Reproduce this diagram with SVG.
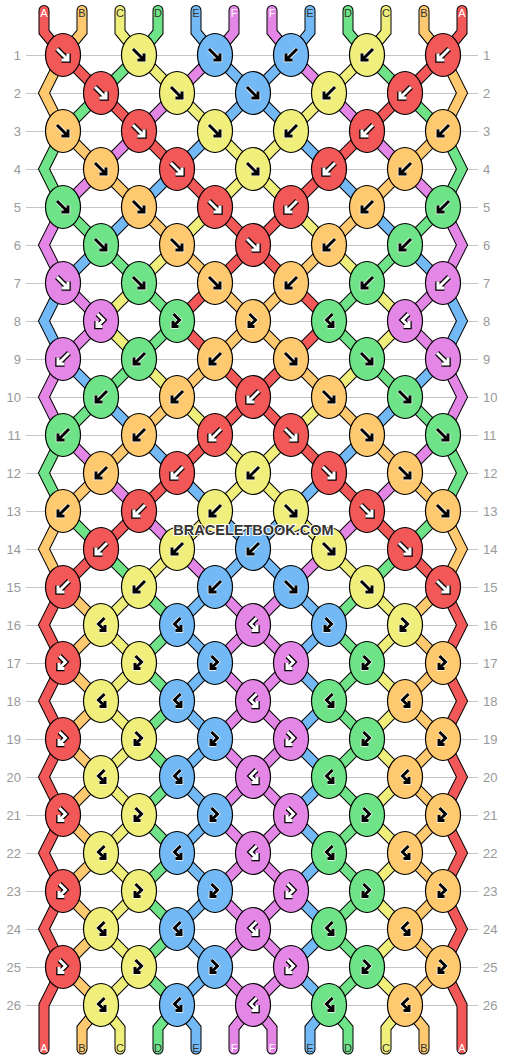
<svg xmlns="http://www.w3.org/2000/svg" xmlns:xlink="http://www.w3.org/1999/xlink" width="506" height="1060" viewBox="0 0 506 1060">
<style>
.gl{fill:none;stroke:#c4c4c4;stroke-width:1}
.so{fill:none;stroke:#000;stroke-width:11;stroke-linecap:round;stroke-linejoin:miter}
.sc{fill:none;stroke-width:9;stroke-linecap:round;stroke-linejoin:miter}
.cr{stroke:#f25858}.co{stroke:#ffc96f}.cy{stroke:#f1ef7b}.cg{stroke:#6fe388}.cb{stroke:#72b9f5}.cp{stroke:#e486e5}
ellipse{stroke:#000;stroke-width:1.2}
.r{fill:#f25858}.o{fill:#ffc96f}.y{fill:#f1ef7b}.g{fill:#6fe388}.b{fill:#72b9f5}.p{fill:#e486e5}
.ao{fill:none;stroke:#000;stroke-width:5.5}
.al{fill:none;stroke:#fff;stroke-width:3}
.ah{fill:none;stroke:#fff;stroke-width:4.5}
.ad{fill:none;stroke:#000;stroke-width:3}
.n{font-family:"Liberation Sans",Arial,sans-serif;font-size:13px;fill:#999}
.nl{text-anchor:end}
.lb{font-family:"Liberation Sans",Arial,sans-serif;font-size:11px;text-anchor:middle}
.lw{fill:#fff}.lk{fill:#333}
.wm{font-family:"Liberation Sans",Arial,sans-serif;font-weight:bold;font-size:14.5px;fill:#333;stroke:#fff;stroke-width:2;paint-order:stroke;text-anchor:middle}
</style>
<defs>
<path id="pF" d="M-6 -6L4.5 4.5M-1.5 5H5V-1.5"/>
<path id="pB" d="M6 -6L-4.5 4.5M1.5 5H-5V-1.5"/>
<path id="pFB" d="M-3.5 -7L2.5 -1L-3.5 5M1.5 5.5H-4V0"/>
<path id="pBF" d="M3.5 -7L-2.5 -1L3.5 5M-1.5 5.5H4V0"/>
<g id="Fl"><use href="#pF" class="ao"/><use href="#pF" class="al"/></g>
<g id="Fd"><use href="#pF" class="ah"/><use href="#pF" class="ad"/></g>
<g id="Bl"><use href="#pB" class="ao"/><use href="#pB" class="al"/></g>
<g id="Bd"><use href="#pB" class="ah"/><use href="#pB" class="ad"/></g>
<g id="FBl"><use href="#pFB" class="ao"/><use href="#pFB" class="al"/></g>
<g id="FBd"><use href="#pFB" class="ah"/><use href="#pFB" class="ad"/></g>
<g id="BFl"><use href="#pBF" class="ao"/><use href="#pBF" class="al"/></g>
<g id="BFd"><use href="#pBF" class="ah"/><use href="#pBF" class="ad"/></g>
<path id="sA1" d="M44 10.5V32L63 55 101 93 139 131 177 169 215 207 253 245 291 283 329 321 291 359 253 397 215 435 177 473 139 511 101 549 63 587 44 625 63 663 44 701 63 739 44 777 63 815 44 853 63 891 44 929 63 967 44 1005V1049"/>
<path id="sA2" d="M462 10.5V32L443 55 405 93 367 131 329 169 291 207 253 245 215 283 177 321 215 359 253 397 291 435 329 473 367 511 405 549 443 587 462 625 443 663 462 701 443 739 462 777 443 815 462 853 443 891 462 929 443 967 462 1005V1049"/>
<path id="sB1" d="M82 10.5V32L63 55 44 93 63 131 101 169 139 207 177 245 215 283 253 321 215 359 177 397 139 435 101 473 63 511 44 549 63 587 101 625 63 663 101 701 63 739 101 777 63 815 101 853 63 891 101 929 63 967 101 1005 82 1028V1049"/>
<path id="sB2" d="M424 10.5V32L443 55 462 93 443 131 405 169 367 207 329 245 291 283 253 321 291 359 329 397 367 435 405 473 443 511 462 549 443 587 405 625 443 663 405 701 443 739 405 777 443 815 405 853 443 891 405 929 443 967 405 1005 424 1028V1049"/>
<path id="sC1" d="M120 10.5V32L139 55 177 93 215 131 253 169 291 207 329 245 367 283 405 321 367 359 329 397 291 435 253 473 215 511 177 549 139 587 101 625 139 663 101 701 139 739 101 777 139 815 101 853 139 891 101 929 139 967 101 1005 120 1028V1049"/>
<path id="sC2" d="M386 10.5V32L367 55 329 93 291 131 253 169 215 207 177 245 139 283 101 321 139 359 177 397 215 435 253 473 291 511 329 549 367 587 405 625 367 663 405 701 367 739 405 777 367 815 405 853 367 891 405 929 367 967 405 1005 386 1028V1049"/>
<path id="sD1" d="M158 10.5V32L139 55 101 93 63 131 44 169 63 207 101 245 139 283 177 321 139 359 101 397 63 435 44 473 63 511 101 549 139 587 177 625 139 663 177 701 139 739 177 777 139 815 177 853 139 891 177 929 139 967 177 1005 158 1028V1049"/>
<path id="sD2" d="M348 10.5V32L367 55 405 93 443 131 462 169 443 207 405 245 367 283 329 321 367 359 405 397 443 435 462 473 443 511 405 549 367 587 329 625 367 663 329 701 367 739 329 777 367 815 329 853 367 891 329 929 367 967 329 1005 348 1028V1049"/>
<path id="sE1" d="M196 10.5V32L215 55 253 93 291 131 329 169 367 207 405 245 443 283 462 321 443 359 405 397 367 435 329 473 291 511 253 549 215 587 177 625 215 663 177 701 215 739 177 777 215 815 177 853 215 891 177 929 215 967 177 1005 196 1028V1049"/>
<path id="sE2" d="M310 10.5V32L291 55 253 93 215 131 177 169 139 207 101 245 63 283 44 321 63 359 101 397 139 435 177 473 215 511 253 549 291 587 329 625 291 663 329 701 291 739 329 777 291 815 329 853 291 891 329 929 291 967 329 1005 310 1028V1049"/>
<path id="sF1" d="M234 10.5V32L215 55 177 93 139 131 101 169 63 207 44 245 63 283 101 321 63 359 44 397 63 435 101 473 139 511 177 549 215 587 253 625 215 663 253 701 215 739 253 777 215 815 253 853 215 891 253 929 215 967 253 1005 234 1028V1049"/>
<path id="sF2" d="M272 10.5V32L291 55 329 93 367 131 405 169 443 207 462 245 443 283 405 321 443 359 462 397 443 435 405 473 367 511 329 549 291 587 253 625 291 663 253 701 291 739 253 777 291 815 253 853 291 891 253 929 291 967 253 1005 272 1028V1049"/>
</defs>
<rect width="506" height="1060" fill="#fff"/>
<g id="grid">
<path class="gl" d="M26 55.5H478M26 93.5H478M26 131.5H478M26 169.5H478M26 207.5H478M26 245.5H478M26 283.5H478M26 321.5H478M26 359.5H478M26 397.5H478M26 435.5H478M26 473.5H478M26 511.5H478M26 549.5H478M26 587.5H478M26 625.5H478M26 663.5H478M26 701.5H478M26 739.5H478M26 777.5H478M26 815.5H478M26 853.5H478M26 891.5H478M26 929.5H478M26 967.5H478M26 1005.5H478"/>
</g>
<g id="row-numbers">
<text class="n nl" x="21" y="59.5">1</text><text class="n nl" x="21" y="97.5">2</text><text class="n nl" x="21" y="135.5">3</text><text class="n nl" x="21" y="173.5">4</text><text class="n nl" x="21" y="211.5">5</text><text class="n nl" x="21" y="249.5">6</text><text class="n nl" x="21" y="287.5">7</text><text class="n nl" x="21" y="325.5">8</text><text class="n nl" x="21" y="363.5">9</text><text class="n nl" x="21" y="401.5">10</text><text class="n nl" x="21" y="439.5">11</text><text class="n nl" x="21" y="477.5">12</text><text class="n nl" x="21" y="515.5">13</text><text class="n nl" x="21" y="553.5">14</text><text class="n nl" x="21" y="591.5">15</text><text class="n nl" x="21" y="629.5">16</text><text class="n nl" x="21" y="667.5">17</text><text class="n nl" x="21" y="705.5">18</text><text class="n nl" x="21" y="743.5">19</text><text class="n nl" x="21" y="781.5">20</text><text class="n nl" x="21" y="819.5">21</text><text class="n nl" x="21" y="857.5">22</text><text class="n nl" x="21" y="895.5">23</text><text class="n nl" x="21" y="933.5">24</text><text class="n nl" x="21" y="971.5">25</text><text class="n nl" x="21" y="1009.5">26</text>
<text class="n" x="483" y="59.5">1</text><text class="n" x="483" y="97.5">2</text><text class="n" x="483" y="135.5">3</text><text class="n" x="483" y="173.5">4</text><text class="n" x="483" y="211.5">5</text><text class="n" x="483" y="249.5">6</text><text class="n" x="483" y="287.5">7</text><text class="n" x="483" y="325.5">8</text><text class="n" x="483" y="363.5">9</text><text class="n" x="483" y="401.5">10</text><text class="n" x="483" y="439.5">11</text><text class="n" x="483" y="477.5">12</text><text class="n" x="483" y="515.5">13</text><text class="n" x="483" y="553.5">14</text><text class="n" x="483" y="591.5">15</text><text class="n" x="483" y="629.5">16</text><text class="n" x="483" y="667.5">17</text><text class="n" x="483" y="705.5">18</text><text class="n" x="483" y="743.5">19</text><text class="n" x="483" y="781.5">20</text><text class="n" x="483" y="819.5">21</text><text class="n" x="483" y="857.5">22</text><text class="n" x="483" y="895.5">23</text><text class="n" x="483" y="933.5">24</text><text class="n" x="483" y="971.5">25</text><text class="n" x="483" y="1009.5">26</text>
</g>
<g id="connectors">
<use href="#sA1" class="so"/><use href="#sB1" class="so"/><use href="#sC1" class="so"/><use href="#sD1" class="so"/><use href="#sE1" class="so"/><use href="#sF1" class="so"/><use href="#sF2" class="so"/><use href="#sE2" class="so"/><use href="#sD2" class="so"/><use href="#sC2" class="so"/><use href="#sB2" class="so"/><use href="#sA2" class="so"/>
<use id="string-A1" href="#sA1" class="sc cr"/><use id="string-B1" href="#sB1" class="sc co"/><use id="string-C1" href="#sC1" class="sc cy"/><use id="string-D1" href="#sD1" class="sc cg"/><use id="string-E1" href="#sE1" class="sc cb"/><use id="string-F1" href="#sF1" class="sc cp"/><use id="string-F2" href="#sF2" class="sc cp"/><use id="string-E2" href="#sE2" class="sc cb"/><use id="string-D2" href="#sD2" class="sc cg"/><use id="string-C2" href="#sC2" class="sc cy"/><use id="string-B2" href="#sB2" class="sc co"/><use id="string-A2" href="#sA2" class="sc cr"/>
</g>
<g id="knots">
<g id="k1-1"><ellipse class="r" cx="63" cy="55" rx="17.5" ry="21.5"/><use href="#Fl" x="63" y="55"/></g>
<g id="k1-2"><ellipse class="y" cx="139" cy="55" rx="17.5" ry="21.5"/><use href="#Fd" x="139" y="55"/></g>
<g id="k1-3"><ellipse class="b" cx="215" cy="55" rx="17.5" ry="21.5"/><use href="#Fd" x="215" y="55"/></g>
<g id="k1-4"><ellipse class="b" cx="291" cy="55" rx="17.5" ry="21.5"/><use href="#Bd" x="291" y="55"/></g>
<g id="k1-5"><ellipse class="y" cx="367" cy="55" rx="17.5" ry="21.5"/><use href="#Bd" x="367" y="55"/></g>
<g id="k1-6"><ellipse class="r" cx="443" cy="55" rx="17.5" ry="21.5"/><use href="#Bl" x="443" y="55"/></g>
<g id="k2-1"><ellipse class="r" cx="101" cy="93" rx="17.5" ry="21.5"/><use href="#Fl" x="101" y="93"/></g>
<g id="k2-2"><ellipse class="y" cx="177" cy="93" rx="17.5" ry="21.5"/><use href="#Fd" x="177" y="93"/></g>
<g id="k2-3"><ellipse class="b" cx="253" cy="93" rx="17.5" ry="21.5"/><use href="#Fd" x="253" y="93"/></g>
<g id="k2-4"><ellipse class="y" cx="329" cy="93" rx="17.5" ry="21.5"/><use href="#Bd" x="329" y="93"/></g>
<g id="k2-5"><ellipse class="r" cx="405" cy="93" rx="17.5" ry="21.5"/><use href="#Bl" x="405" y="93"/></g>
<g id="k3-1"><ellipse class="o" cx="63" cy="131" rx="17.5" ry="21.5"/><use href="#Fd" x="63" y="131"/></g>
<g id="k3-2"><ellipse class="r" cx="139" cy="131" rx="17.5" ry="21.5"/><use href="#Fl" x="139" y="131"/></g>
<g id="k3-3"><ellipse class="y" cx="215" cy="131" rx="17.5" ry="21.5"/><use href="#Fd" x="215" y="131"/></g>
<g id="k3-4"><ellipse class="y" cx="291" cy="131" rx="17.5" ry="21.5"/><use href="#Bd" x="291" y="131"/></g>
<g id="k3-5"><ellipse class="r" cx="367" cy="131" rx="17.5" ry="21.5"/><use href="#Bl" x="367" y="131"/></g>
<g id="k3-6"><ellipse class="o" cx="443" cy="131" rx="17.5" ry="21.5"/><use href="#Bd" x="443" y="131"/></g>
<g id="k4-1"><ellipse class="o" cx="101" cy="169" rx="17.5" ry="21.5"/><use href="#Fd" x="101" y="169"/></g>
<g id="k4-2"><ellipse class="r" cx="177" cy="169" rx="17.5" ry="21.5"/><use href="#Fl" x="177" y="169"/></g>
<g id="k4-3"><ellipse class="y" cx="253" cy="169" rx="17.5" ry="21.5"/><use href="#Fd" x="253" y="169"/></g>
<g id="k4-4"><ellipse class="r" cx="329" cy="169" rx="17.5" ry="21.5"/><use href="#Bl" x="329" y="169"/></g>
<g id="k4-5"><ellipse class="o" cx="405" cy="169" rx="17.5" ry="21.5"/><use href="#Bd" x="405" y="169"/></g>
<g id="k5-1"><ellipse class="g" cx="63" cy="207" rx="17.5" ry="21.5"/><use href="#Fd" x="63" y="207"/></g>
<g id="k5-2"><ellipse class="o" cx="139" cy="207" rx="17.5" ry="21.5"/><use href="#Fd" x="139" y="207"/></g>
<g id="k5-3"><ellipse class="r" cx="215" cy="207" rx="17.5" ry="21.5"/><use href="#Fl" x="215" y="207"/></g>
<g id="k5-4"><ellipse class="r" cx="291" cy="207" rx="17.5" ry="21.5"/><use href="#Bl" x="291" y="207"/></g>
<g id="k5-5"><ellipse class="o" cx="367" cy="207" rx="17.5" ry="21.5"/><use href="#Bd" x="367" y="207"/></g>
<g id="k5-6"><ellipse class="g" cx="443" cy="207" rx="17.5" ry="21.5"/><use href="#Bd" x="443" y="207"/></g>
<g id="k6-1"><ellipse class="g" cx="101" cy="245" rx="17.5" ry="21.5"/><use href="#Fd" x="101" y="245"/></g>
<g id="k6-2"><ellipse class="o" cx="177" cy="245" rx="17.5" ry="21.5"/><use href="#Fd" x="177" y="245"/></g>
<g id="k6-3"><ellipse class="r" cx="253" cy="245" rx="17.5" ry="21.5"/><use href="#Fl" x="253" y="245"/></g>
<g id="k6-4"><ellipse class="o" cx="329" cy="245" rx="17.5" ry="21.5"/><use href="#Bd" x="329" y="245"/></g>
<g id="k6-5"><ellipse class="g" cx="405" cy="245" rx="17.5" ry="21.5"/><use href="#Bd" x="405" y="245"/></g>
<g id="k7-1"><ellipse class="p" cx="63" cy="283" rx="17.5" ry="21.5"/><use href="#Fl" x="63" y="283"/></g>
<g id="k7-2"><ellipse class="g" cx="139" cy="283" rx="17.5" ry="21.5"/><use href="#Fd" x="139" y="283"/></g>
<g id="k7-3"><ellipse class="o" cx="215" cy="283" rx="17.5" ry="21.5"/><use href="#Fd" x="215" y="283"/></g>
<g id="k7-4"><ellipse class="o" cx="291" cy="283" rx="17.5" ry="21.5"/><use href="#Bd" x="291" y="283"/></g>
<g id="k7-5"><ellipse class="g" cx="367" cy="283" rx="17.5" ry="21.5"/><use href="#Bd" x="367" y="283"/></g>
<g id="k7-6"><ellipse class="p" cx="443" cy="283" rx="17.5" ry="21.5"/><use href="#Bl" x="443" y="283"/></g>
<g id="k8-1"><ellipse class="p" cx="101" cy="321" rx="17.5" ry="21.5"/><use href="#FBl" x="101" y="321"/></g>
<g id="k8-2"><ellipse class="g" cx="177" cy="321" rx="17.5" ry="21.5"/><use href="#FBd" x="177" y="321"/></g>
<g id="k8-3"><ellipse class="o" cx="253" cy="321" rx="17.5" ry="21.5"/><use href="#FBd" x="253" y="321"/></g>
<g id="k8-4"><ellipse class="g" cx="329" cy="321" rx="17.5" ry="21.5"/><use href="#BFd" x="329" y="321"/></g>
<g id="k8-5"><ellipse class="p" cx="405" cy="321" rx="17.5" ry="21.5"/><use href="#BFl" x="405" y="321"/></g>
<g id="k9-1"><ellipse class="p" cx="63" cy="359" rx="17.5" ry="21.5"/><use href="#Bl" x="63" y="359"/></g>
<g id="k9-2"><ellipse class="g" cx="139" cy="359" rx="17.5" ry="21.5"/><use href="#Bd" x="139" y="359"/></g>
<g id="k9-3"><ellipse class="o" cx="215" cy="359" rx="17.5" ry="21.5"/><use href="#Bd" x="215" y="359"/></g>
<g id="k9-4"><ellipse class="o" cx="291" cy="359" rx="17.5" ry="21.5"/><use href="#Fd" x="291" y="359"/></g>
<g id="k9-5"><ellipse class="g" cx="367" cy="359" rx="17.5" ry="21.5"/><use href="#Fd" x="367" y="359"/></g>
<g id="k9-6"><ellipse class="p" cx="443" cy="359" rx="17.5" ry="21.5"/><use href="#Fl" x="443" y="359"/></g>
<g id="k10-1"><ellipse class="g" cx="101" cy="397" rx="17.5" ry="21.5"/><use href="#Bd" x="101" y="397"/></g>
<g id="k10-2"><ellipse class="o" cx="177" cy="397" rx="17.5" ry="21.5"/><use href="#Bd" x="177" y="397"/></g>
<g id="k10-3"><ellipse class="r" cx="253" cy="397" rx="17.5" ry="21.5"/><use href="#Bl" x="253" y="397"/></g>
<g id="k10-4"><ellipse class="o" cx="329" cy="397" rx="17.5" ry="21.5"/><use href="#Fd" x="329" y="397"/></g>
<g id="k10-5"><ellipse class="g" cx="405" cy="397" rx="17.5" ry="21.5"/><use href="#Fd" x="405" y="397"/></g>
<g id="k11-1"><ellipse class="g" cx="63" cy="435" rx="17.5" ry="21.5"/><use href="#Bd" x="63" y="435"/></g>
<g id="k11-2"><ellipse class="o" cx="139" cy="435" rx="17.5" ry="21.5"/><use href="#Bd" x="139" y="435"/></g>
<g id="k11-3"><ellipse class="r" cx="215" cy="435" rx="17.5" ry="21.5"/><use href="#Bl" x="215" y="435"/></g>
<g id="k11-4"><ellipse class="r" cx="291" cy="435" rx="17.5" ry="21.5"/><use href="#Fl" x="291" y="435"/></g>
<g id="k11-5"><ellipse class="o" cx="367" cy="435" rx="17.5" ry="21.5"/><use href="#Fd" x="367" y="435"/></g>
<g id="k11-6"><ellipse class="g" cx="443" cy="435" rx="17.5" ry="21.5"/><use href="#Fd" x="443" y="435"/></g>
<g id="k12-1"><ellipse class="o" cx="101" cy="473" rx="17.5" ry="21.5"/><use href="#Bd" x="101" y="473"/></g>
<g id="k12-2"><ellipse class="r" cx="177" cy="473" rx="17.5" ry="21.5"/><use href="#Bl" x="177" y="473"/></g>
<g id="k12-3"><ellipse class="y" cx="253" cy="473" rx="17.5" ry="21.5"/><use href="#Bd" x="253" y="473"/></g>
<g id="k12-4"><ellipse class="r" cx="329" cy="473" rx="17.5" ry="21.5"/><use href="#Fl" x="329" y="473"/></g>
<g id="k12-5"><ellipse class="o" cx="405" cy="473" rx="17.5" ry="21.5"/><use href="#Fd" x="405" y="473"/></g>
<g id="k13-1"><ellipse class="o" cx="63" cy="511" rx="17.5" ry="21.5"/><use href="#Bd" x="63" y="511"/></g>
<g id="k13-2"><ellipse class="r" cx="139" cy="511" rx="17.5" ry="21.5"/><use href="#Bl" x="139" y="511"/></g>
<g id="k13-3"><ellipse class="y" cx="215" cy="511" rx="17.5" ry="21.5"/><use href="#Bd" x="215" y="511"/></g>
<g id="k13-4"><ellipse class="y" cx="291" cy="511" rx="17.5" ry="21.5"/><use href="#Fd" x="291" y="511"/></g>
<g id="k13-5"><ellipse class="r" cx="367" cy="511" rx="17.5" ry="21.5"/><use href="#Fl" x="367" y="511"/></g>
<g id="k13-6"><ellipse class="o" cx="443" cy="511" rx="17.5" ry="21.5"/><use href="#Fd" x="443" y="511"/></g>
<g id="k14-1"><ellipse class="r" cx="101" cy="549" rx="17.5" ry="21.5"/><use href="#Bl" x="101" y="549"/></g>
<g id="k14-2"><ellipse class="y" cx="177" cy="549" rx="17.5" ry="21.5"/><use href="#Bd" x="177" y="549"/></g>
<g id="k14-3"><ellipse class="b" cx="253" cy="549" rx="17.5" ry="21.5"/><use href="#Bd" x="253" y="549"/></g>
<g id="k14-4"><ellipse class="y" cx="329" cy="549" rx="17.5" ry="21.5"/><use href="#Fd" x="329" y="549"/></g>
<g id="k14-5"><ellipse class="r" cx="405" cy="549" rx="17.5" ry="21.5"/><use href="#Fl" x="405" y="549"/></g>
<g id="k15-1"><ellipse class="r" cx="63" cy="587" rx="17.5" ry="21.5"/><use href="#Bl" x="63" y="587"/></g>
<g id="k15-2"><ellipse class="y" cx="139" cy="587" rx="17.5" ry="21.5"/><use href="#Bd" x="139" y="587"/></g>
<g id="k15-3"><ellipse class="b" cx="215" cy="587" rx="17.5" ry="21.5"/><use href="#Bd" x="215" y="587"/></g>
<g id="k15-4"><ellipse class="b" cx="291" cy="587" rx="17.5" ry="21.5"/><use href="#Fd" x="291" y="587"/></g>
<g id="k15-5"><ellipse class="y" cx="367" cy="587" rx="17.5" ry="21.5"/><use href="#Fd" x="367" y="587"/></g>
<g id="k15-6"><ellipse class="r" cx="443" cy="587" rx="17.5" ry="21.5"/><use href="#Fl" x="443" y="587"/></g>
<g id="k16-1"><ellipse class="y" cx="101" cy="625" rx="17.5" ry="21.5"/><use href="#BFd" x="101" y="625"/></g>
<g id="k16-2"><ellipse class="b" cx="177" cy="625" rx="17.5" ry="21.5"/><use href="#BFd" x="177" y="625"/></g>
<g id="k16-3"><ellipse class="p" cx="253" cy="625" rx="17.5" ry="21.5"/><use href="#BFl" x="253" y="625"/></g>
<g id="k16-4"><ellipse class="b" cx="329" cy="625" rx="17.5" ry="21.5"/><use href="#FBd" x="329" y="625"/></g>
<g id="k16-5"><ellipse class="y" cx="405" cy="625" rx="17.5" ry="21.5"/><use href="#FBd" x="405" y="625"/></g>
<g id="k17-1"><ellipse class="r" cx="63" cy="663" rx="17.5" ry="21.5"/><use href="#FBl" x="63" y="663"/></g>
<g id="k17-2"><ellipse class="y" cx="139" cy="663" rx="17.5" ry="21.5"/><use href="#FBd" x="139" y="663"/></g>
<g id="k17-3"><ellipse class="b" cx="215" cy="663" rx="17.5" ry="21.5"/><use href="#FBd" x="215" y="663"/></g>
<g id="k17-4"><ellipse class="p" cx="291" cy="663" rx="17.5" ry="21.5"/><use href="#FBl" x="291" y="663"/></g>
<g id="k17-5"><ellipse class="g" cx="367" cy="663" rx="17.5" ry="21.5"/><use href="#FBd" x="367" y="663"/></g>
<g id="k17-6"><ellipse class="o" cx="443" cy="663" rx="17.5" ry="21.5"/><use href="#FBd" x="443" y="663"/></g>
<g id="k18-1"><ellipse class="y" cx="101" cy="701" rx="17.5" ry="21.5"/><use href="#BFd" x="101" y="701"/></g>
<g id="k18-2"><ellipse class="b" cx="177" cy="701" rx="17.5" ry="21.5"/><use href="#BFd" x="177" y="701"/></g>
<g id="k18-3"><ellipse class="p" cx="253" cy="701" rx="17.5" ry="21.5"/><use href="#BFl" x="253" y="701"/></g>
<g id="k18-4"><ellipse class="g" cx="329" cy="701" rx="17.5" ry="21.5"/><use href="#BFd" x="329" y="701"/></g>
<g id="k18-5"><ellipse class="o" cx="405" cy="701" rx="17.5" ry="21.5"/><use href="#BFd" x="405" y="701"/></g>
<g id="k19-1"><ellipse class="r" cx="63" cy="739" rx="17.5" ry="21.5"/><use href="#FBl" x="63" y="739"/></g>
<g id="k19-2"><ellipse class="y" cx="139" cy="739" rx="17.5" ry="21.5"/><use href="#FBd" x="139" y="739"/></g>
<g id="k19-3"><ellipse class="b" cx="215" cy="739" rx="17.5" ry="21.5"/><use href="#FBd" x="215" y="739"/></g>
<g id="k19-4"><ellipse class="p" cx="291" cy="739" rx="17.5" ry="21.5"/><use href="#FBl" x="291" y="739"/></g>
<g id="k19-5"><ellipse class="g" cx="367" cy="739" rx="17.5" ry="21.5"/><use href="#FBd" x="367" y="739"/></g>
<g id="k19-6"><ellipse class="o" cx="443" cy="739" rx="17.5" ry="21.5"/><use href="#FBd" x="443" y="739"/></g>
<g id="k20-1"><ellipse class="y" cx="101" cy="777" rx="17.5" ry="21.5"/><use href="#BFd" x="101" y="777"/></g>
<g id="k20-2"><ellipse class="b" cx="177" cy="777" rx="17.5" ry="21.5"/><use href="#BFd" x="177" y="777"/></g>
<g id="k20-3"><ellipse class="p" cx="253" cy="777" rx="17.5" ry="21.5"/><use href="#BFl" x="253" y="777"/></g>
<g id="k20-4"><ellipse class="g" cx="329" cy="777" rx="17.5" ry="21.5"/><use href="#BFd" x="329" y="777"/></g>
<g id="k20-5"><ellipse class="o" cx="405" cy="777" rx="17.5" ry="21.5"/><use href="#BFd" x="405" y="777"/></g>
<g id="k21-1"><ellipse class="r" cx="63" cy="815" rx="17.5" ry="21.5"/><use href="#FBl" x="63" y="815"/></g>
<g id="k21-2"><ellipse class="y" cx="139" cy="815" rx="17.5" ry="21.5"/><use href="#FBd" x="139" y="815"/></g>
<g id="k21-3"><ellipse class="b" cx="215" cy="815" rx="17.5" ry="21.5"/><use href="#FBd" x="215" y="815"/></g>
<g id="k21-4"><ellipse class="p" cx="291" cy="815" rx="17.5" ry="21.5"/><use href="#FBl" x="291" y="815"/></g>
<g id="k21-5"><ellipse class="g" cx="367" cy="815" rx="17.5" ry="21.5"/><use href="#FBd" x="367" y="815"/></g>
<g id="k21-6"><ellipse class="o" cx="443" cy="815" rx="17.5" ry="21.5"/><use href="#FBd" x="443" y="815"/></g>
<g id="k22-1"><ellipse class="y" cx="101" cy="853" rx="17.5" ry="21.5"/><use href="#BFd" x="101" y="853"/></g>
<g id="k22-2"><ellipse class="b" cx="177" cy="853" rx="17.5" ry="21.5"/><use href="#BFd" x="177" y="853"/></g>
<g id="k22-3"><ellipse class="p" cx="253" cy="853" rx="17.5" ry="21.5"/><use href="#BFl" x="253" y="853"/></g>
<g id="k22-4"><ellipse class="g" cx="329" cy="853" rx="17.5" ry="21.5"/><use href="#BFd" x="329" y="853"/></g>
<g id="k22-5"><ellipse class="o" cx="405" cy="853" rx="17.5" ry="21.5"/><use href="#BFd" x="405" y="853"/></g>
<g id="k23-1"><ellipse class="r" cx="63" cy="891" rx="17.5" ry="21.5"/><use href="#FBl" x="63" y="891"/></g>
<g id="k23-2"><ellipse class="y" cx="139" cy="891" rx="17.5" ry="21.5"/><use href="#FBd" x="139" y="891"/></g>
<g id="k23-3"><ellipse class="b" cx="215" cy="891" rx="17.5" ry="21.5"/><use href="#FBd" x="215" y="891"/></g>
<g id="k23-4"><ellipse class="p" cx="291" cy="891" rx="17.5" ry="21.5"/><use href="#FBl" x="291" y="891"/></g>
<g id="k23-5"><ellipse class="g" cx="367" cy="891" rx="17.5" ry="21.5"/><use href="#FBd" x="367" y="891"/></g>
<g id="k23-6"><ellipse class="o" cx="443" cy="891" rx="17.5" ry="21.5"/><use href="#FBd" x="443" y="891"/></g>
<g id="k24-1"><ellipse class="y" cx="101" cy="929" rx="17.5" ry="21.5"/><use href="#BFd" x="101" y="929"/></g>
<g id="k24-2"><ellipse class="b" cx="177" cy="929" rx="17.5" ry="21.5"/><use href="#BFd" x="177" y="929"/></g>
<g id="k24-3"><ellipse class="p" cx="253" cy="929" rx="17.5" ry="21.5"/><use href="#BFl" x="253" y="929"/></g>
<g id="k24-4"><ellipse class="g" cx="329" cy="929" rx="17.5" ry="21.5"/><use href="#BFd" x="329" y="929"/></g>
<g id="k24-5"><ellipse class="o" cx="405" cy="929" rx="17.5" ry="21.5"/><use href="#BFd" x="405" y="929"/></g>
<g id="k25-1"><ellipse class="r" cx="63" cy="967" rx="17.5" ry="21.5"/><use href="#FBl" x="63" y="967"/></g>
<g id="k25-2"><ellipse class="y" cx="139" cy="967" rx="17.5" ry="21.5"/><use href="#FBd" x="139" y="967"/></g>
<g id="k25-3"><ellipse class="b" cx="215" cy="967" rx="17.5" ry="21.5"/><use href="#FBd" x="215" y="967"/></g>
<g id="k25-4"><ellipse class="p" cx="291" cy="967" rx="17.5" ry="21.5"/><use href="#FBl" x="291" y="967"/></g>
<g id="k25-5"><ellipse class="g" cx="367" cy="967" rx="17.5" ry="21.5"/><use href="#FBd" x="367" y="967"/></g>
<g id="k25-6"><ellipse class="o" cx="443" cy="967" rx="17.5" ry="21.5"/><use href="#FBd" x="443" y="967"/></g>
<g id="k26-1"><ellipse class="y" cx="101" cy="1005" rx="17.5" ry="21.5"/><use href="#BFd" x="101" y="1005"/></g>
<g id="k26-2"><ellipse class="b" cx="177" cy="1005" rx="17.5" ry="21.5"/><use href="#BFd" x="177" y="1005"/></g>
<g id="k26-3"><ellipse class="p" cx="253" cy="1005" rx="17.5" ry="21.5"/><use href="#BFl" x="253" y="1005"/></g>
<g id="k26-4"><ellipse class="g" cx="329" cy="1005" rx="17.5" ry="21.5"/><use href="#BFd" x="329" y="1005"/></g>
<g id="k26-5"><ellipse class="o" cx="405" cy="1005" rx="17.5" ry="21.5"/><use href="#BFd" x="405" y="1005"/></g>
</g>
<g id="string-labels">
<text class="lb lw" x="44" y="16.5">A</text><text class="lb lk" x="82" y="16.5">B</text><text class="lb lk" x="120" y="16.5">C</text><text class="lb lk" x="158" y="16.5">D</text><text class="lb lk" x="196" y="16.5">E</text><text class="lb lw" x="234" y="16.5">F</text><text class="lb lw" x="272" y="16.5">F</text><text class="lb lk" x="310" y="16.5">E</text><text class="lb lk" x="348" y="16.5">D</text><text class="lb lk" x="386" y="16.5">C</text><text class="lb lk" x="424" y="16.5">B</text><text class="lb lw" x="462" y="16.5">A</text>
<text class="lb lw" x="44" y="1052">A</text><text class="lb lk" x="82" y="1052">B</text><text class="lb lk" x="120" y="1052">C</text><text class="lb lk" x="158" y="1052">D</text><text class="lb lk" x="196" y="1052">E</text><text class="lb lw" x="234" y="1052">F</text><text class="lb lw" x="272" y="1052">F</text><text class="lb lk" x="310" y="1052">E</text><text class="lb lk" x="348" y="1052">D</text><text class="lb lk" x="386" y="1052">C</text><text class="lb lk" x="424" y="1052">B</text><text class="lb lw" x="462" y="1052">A</text>
</g>
<text class="wm" x="253.5" y="535">BRACELETBOOK.COM</text>
</svg>
